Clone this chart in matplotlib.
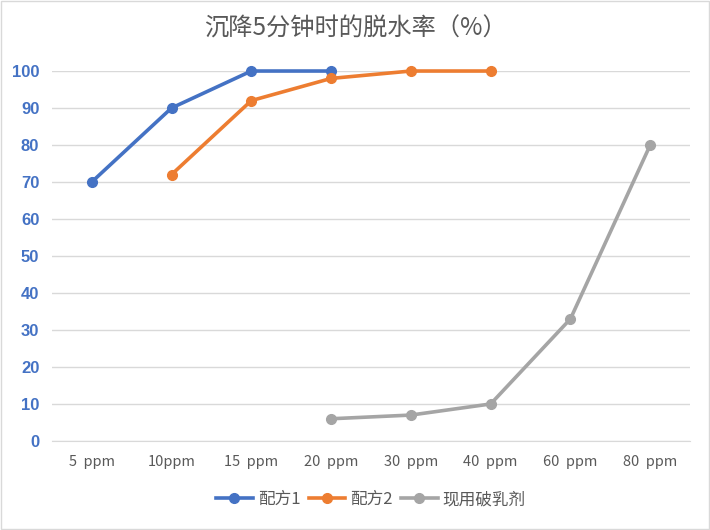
import matplotlib
matplotlib.use("Agg")
import matplotlib.pyplot as plt
import numpy as np

plt.rcParams['font.family'] = ['Noto Sans CJK SC', 'DejaVu Sans']

categories = ["5  ppm", "10ppm", "15  ppm", "20  ppm", "30  ppm", "40  ppm", "60  ppm", "80  ppm"]
# None = no value at that dose
recipe1 = [70, 90, 100, 100, None, None, None, None]
recipe2 = [None, 72, 92, 98, 100, 100, None, None]
current = [None, None, None, 6, 7, 10, 33, 80]

series = [
    ("配方1", recipe1, "#4472C4"),
    ("配方2", recipe2, "#ED7D31"),
    ("现用破乳剂", current, "#A5A5A5"),
]

fig = plt.figure(figsize=(7.1, 5.3), dpi=100)
ax = fig.add_axes([0.073, 0.168, 0.899, 0.698])

x = np.arange(len(categories))
for name, vals, color in series:
    y = np.array([np.nan if v is None else v for v in vals], dtype=float)
    ax.plot(x, y, color=color, lw=2.6, marker="o", markersize=7,
            label=name, clip_on=False, zorder=3)

ax.set_xlim(-0.5, len(categories) - 0.5)
ax.set_ylim(0, 100)
ax.set_yticks(range(0, 101, 10))
ax.set_xticks(x)
ax.set_xticklabels(categories, color="#595959", fontsize=10.5)
for lab in ax.get_yticklabels():
    lab.set_color("#4472C4")
    lab.set_fontweight("bold")
    lab.set_fontsize(12)
    lab.set_family(["Liberation Sans", "DejaVu Sans"])
ax.tick_params(axis="y", length=0, pad=9)
ax.tick_params(axis="x", length=0, pad=10)
ax.grid(axis="y", color="#D9D9D9", lw=1)
ax.set_axisbelow(True)
for s in ["top", "right", "left"]:
    ax.spines[s].set_visible(False)
ax.spines["bottom"].set_color("#D9D9D9")

fig.suptitle("沉降5分钟时的脱水率（%）", y=0.97, fontsize=17.5, color="#595959")

ax.legend(loc="upper center", bbox_to_anchor=(0.5, -0.095), ncol=3, frameon=False,
          fontsize=12, labelcolor="#595959", handlelength=2.2, columnspacing=0.5,
          handletextpad=0.3)

fig.patches.append(plt.Rectangle((0.001, 0.001), 0.998, 0.998, transform=fig.transFigure,
                                 fill=False, edgecolor="#D9D9D9", lw=1))

fig.savefig("out.png", dpi=100)
